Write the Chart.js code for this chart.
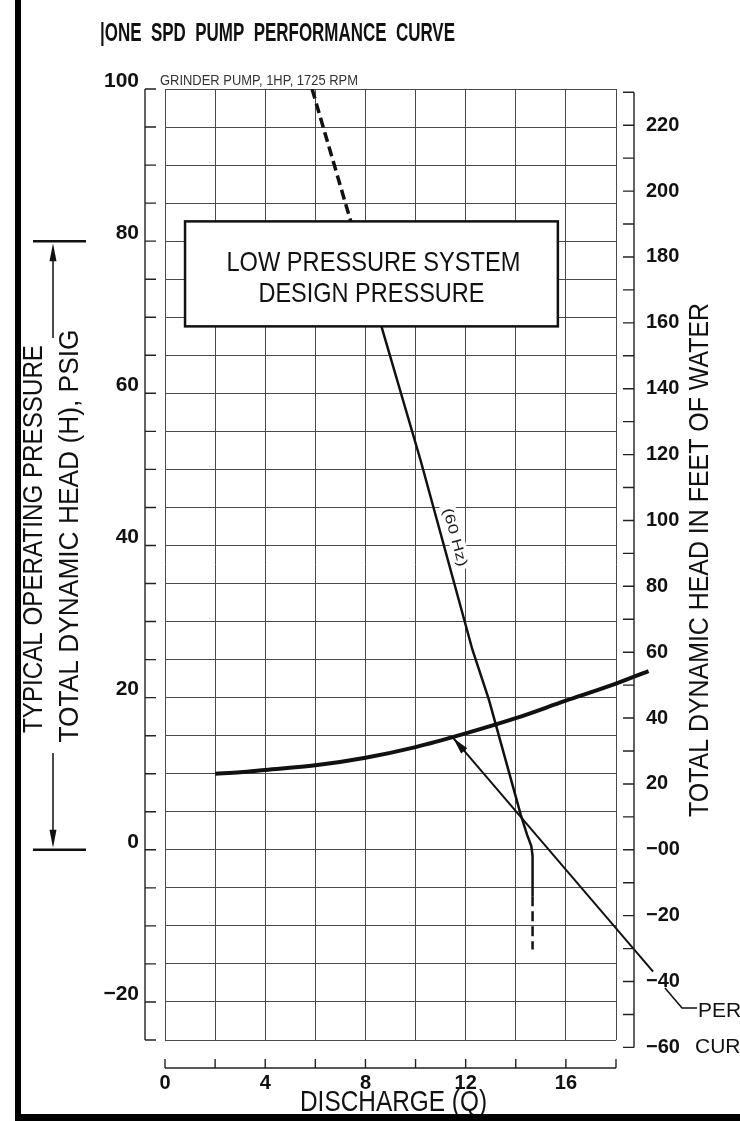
<!DOCTYPE html>
<html>
<head>
<meta charset="utf-8">
<title>One SPD Pump Performance Curve</title>
<script src="https://cdn.jsdelivr.net/npm/chart.js@4.4.0/dist/chart.umd.min.js"></script>
<style>
  html, body { margin: 0; padding: 0; background: #fff; }
  #pumpChart { display: block; }
</style>
</head>
<body>
<canvas id="pumpChart" width="740" height="1121"></canvas>
<script>
// axis ticks (discharge, psi, feet of water)
const qTicks = [0, 2, 4, 6, 8, 10, 12, 14, 16, 18];
const qLabels = [0, 4, 8, 12, 16];
const psiLabels = [100, 80, 60, 40, 20, 0, -20];
const feetTicks = [-60, -50, -40, -30, -20, -10, 0, 10, 20, 30, 40, 50, 60, 70, 80, 90, 100,
    110, 120, 130, 140, 150, 160, 170, 180, 190, 200, 210, 220, 230];
const feetLabels = [220, 200, 180, 160, 140, 120, 100, 80, 60, 40, 20, 0, -20, -40, -60];
const PSI_TO_FEET = 2.31;

// system curve
const systemQ = [2, 3, 4, 6, 8, 10, 12, 14, 16, 17.8, 19.3];
const systemH = [10.0, 10.2, 10.5, 11.1, 12.1, 13.5, 15.3, 17.3, 19.6, 21.6, 23.5];

// pump curve (60 Hz), first and last segments dashed
const pumpQ = [5.87, 7.6, 10.2, 12.27, 12.93, 14.2, 14.45, 14.62, 14.67, 14.67, 14.67];
const pumpH = [100, 80.5, 51.2, 26.3, 19.7, 4.6, 2.0, 0.5, -0.8, -6.1, -13.1];

// callout arrow pointing at the system curve
const arrowQ = [11.5, 19.48];
const arrowH = [14.7, -16.0];

// typical operating pressure range, psig
const operatingRange = [0, 80];

const FONT = "'Liberation Sans', Arial, sans-serif";
const INK = '#111';
const GRID = '#4a4a4a';

function toPoints(xs, ys) {
    return xs.map((v, i) => ({ x: v, y: ys[i] }));
}

function minusSign(v) {
    return v < 0 ? '\u2212' + Math.abs(v) : String(v);
}

// draw text centred on cx with its baseline at by, squeezed to a given width
function drawFit(ctx, text, cx, by, width, font, color) {
    ctx.save();
    ctx.font = font;
    ctx.fillStyle = color || INK;
    ctx.textAlign = 'center';
    ctx.textBaseline = 'alphabetic';
    const w = ctx.measureText(text).width;
    ctx.translate(cx, by);
    ctx.scale(width / w, 1);
    ctx.fillText(text, 0, 0);
    ctx.restore();
}

function drawRotated(ctx, text, bx, cy, width, font) {
    ctx.save();
    ctx.translate(bx, cy);
    ctx.rotate(-Math.PI / 2);
    drawFit(ctx, text, 0, 0, width, font);
    ctx.restore();
}

function triangle(ctx, tipX, tipY, angle, len, half) {
    const bx = tipX - Math.cos(angle) * len;
    const by = tipY - Math.sin(angle) * len;
    const nx = -Math.sin(angle) * half;
    const ny = Math.cos(angle) * half;
    ctx.beginPath();
    ctx.moveTo(tipX, tipY);
    ctx.lineTo(bx + nx, by + ny);
    ctx.lineTo(bx - nx, by - ny);
    ctx.closePath();
    ctx.fill();
}

function drawFrame(ctx) {
    ctx.save();
    ctx.fillStyle = '#000';
    ctx.fillRect(15, 0, 6, 1118);
    ctx.fillRect(15, 1114, 725, 7);
    ctx.restore();
}

function drawBrackets(ctx, x, y, y2) {
    ctx.save();
    ctx.strokeStyle = '#222';
    ctx.lineWidth = 1.4;
    ctx.beginPath();
    // left psi bracket
    const lx = 145;
    ctx.moveTo(lx, y.getPixelForValue(y.max));
    ctx.lineTo(lx, y.getPixelForValue(y.min));
    y.ticks.forEach(t => {
        const py = y.getPixelForValue(t.value);
        ctx.moveTo(lx, py);
        ctx.lineTo(lx + 11, py);
    });
    // right feet bracket
    const rx = 634;
    ctx.moveTo(rx, y2.getPixelForValue(feetTicks[feetTicks.length - 1]));
    ctx.lineTo(rx, y2.getPixelForValue(feetTicks[0]));
    feetTicks.forEach(v => {
        const py = y2.getPixelForValue(v);
        ctx.moveTo(rx, py);
        ctx.lineTo(rx - 11, py);
    });
    // bottom discharge bracket
    const by = 1068;
    ctx.moveTo(x.getPixelForValue(x.min), by);
    ctx.lineTo(x.getPixelForValue(x.max), by);
    qTicks.forEach(v => {
        const px = x.getPixelForValue(v);
        ctx.moveTo(px, by);
        ctx.lineTo(px, by - 9);
    });
    ctx.stroke();
    ctx.restore();
}

function drawArrowHead(ctx, chart) {
    const meta = chart.getDatasetMeta(4);
    const p0 = meta.data[0];
    const p1 = meta.data[1];
    const angle = Math.atan2(p0.y - p1.y, p0.x - p1.x);
    ctx.save();
    ctx.fillStyle = INK;
    triangle(ctx, p0.x, p0.y, angle, 17, 4);
    ctx.restore();
}

function drawDesignBox(ctx, x, y) {
    const left = x.getPixelForValue(0.8);
    const right = x.getPixelForValue(15.68);
    const top = y.getPixelForValue(82.6);
    const bottom = y.getPixelForValue(68.8);
    ctx.save();
    ctx.fillStyle = '#fff';
    ctx.fillRect(left, top, right - left, bottom - top);
    ctx.strokeStyle = INK;
    ctx.lineWidth = 2.5;
    ctx.strokeRect(left, top, right - left, bottom - top);
    ctx.restore();
    const cx = (left + right) / 2;
    drawFit(ctx, 'LOW PRESSURE SYSTEM', cx + 2, top + 50, 294, `28px ${FONT}`);
    drawFit(ctx, 'DESIGN PRESSURE', cx, top + 81, 226, `28px ${FONT}`);
}

function drawHzLabel(ctx, chart) {
    const meta = chart.getDatasetMeta(1);
    const a = meta.data[1];
    const b = meta.data[2];
    const angle = Math.atan2(b.y - a.y, b.x - a.x);
    const { x, y } = chart.scales;
    const cx = x.getPixelForValue(11.6);
    const cy = y.getPixelForValue(41.1);
    ctx.save();
    ctx.translate(cx, cy);
    ctx.rotate(angle);
    ctx.fillStyle = '#fff';
    ctx.fillRect(-33, -8, 66, 16);
    drawFit(ctx, '(60 Hz)', 0, 5, 60, `14px ${FONT}`, '#222');
    ctx.restore();
}

function drawOperatingRange(ctx, y) {
    const top = y.getPixelForValue(operatingRange[1]);
    const bottom = y.getPixelForValue(operatingRange[0]);
    const ax = 53;
    ctx.save();
    ctx.strokeStyle = INK;
    ctx.fillStyle = INK;
    ctx.lineWidth = 2.5;
    ctx.beginPath();
    ctx.moveTo(33, top);
    ctx.lineTo(86, top);
    ctx.moveTo(33, bottom);
    ctx.lineTo(86, bottom);
    ctx.stroke();
    ctx.lineWidth = 1.5;
    ctx.beginPath();
    ctx.moveTo(ax, top + 10);
    ctx.lineTo(ax, 338);
    ctx.moveTo(ax, 753);
    ctx.lineTo(ax, bottom - 10);
    ctx.stroke();
    triangle(ctx, ax, top + 2, -Math.PI / 2, 18, 3.5);
    triangle(ctx, ax, bottom - 2, Math.PI / 2, 18, 3.5);
    ctx.restore();
}

function drawTitles(ctx) {
    drawFit(ctx, '|ONE  SPD  PUMP  PERFORMANCE  CURVE', 277.5, 41, 355, `bold 25px ${FONT}`);
    drawFit(ctx, 'GRINDER PUMP, 1HP, 1725 RPM', 259, 85, 198, `14px ${FONT}`, '#333');
    drawRotated(ctx, 'TYPICAL OPERATING PRESSURE', 42, 539, 388, `28px ${FONT}`);
    drawRotated(ctx, 'TOTAL DYNAMIC HEAD (H), PSIG', 78, 536, 413, `28px ${FONT}`);
    drawRotated(ctx, 'TOTAL DYNAMIC HEAD IN FEET OF WATER', 708, 560, 514, `28px ${FONT}`);
    drawFit(ctx, 'DISCHARGE (Q)', 393.5, 1111, 187, `29px ${FONT}`);
}

function drawCurveCallout(ctx) {
    ctx.save();
    ctx.strokeStyle = INK;
    ctx.lineWidth = 1.6;
    ctx.beginPath();
    ctx.moveTo(665, 988);
    ctx.lineTo(682, 1008);
    ctx.lineTo(697, 1008);
    ctx.stroke();
    ctx.fillStyle = INK;
    ctx.font = `21px ${FONT}`;
    ctx.textAlign = 'left';
    ctx.fillText('PERFORMANCE', 698, 1017);
    ctx.fillText('CURVE', 695, 1053);
    ctx.restore();
}

const decorPlugin = {
    id: 'pumpDecor',
    afterDatasetsDraw(chart) {
        const ctx = chart.ctx;
        const { x, y, y2 } = chart.scales;
        drawBrackets(ctx, x, y, y2);
        drawArrowHead(ctx, chart);
        drawDesignBox(ctx, x, y);
        drawHzLabel(ctx, chart);
        drawOperatingRange(ctx, y);
        drawTitles(ctx);
        drawCurveCallout(ctx);
        drawFrame(ctx);
    }
};

const tickFont = { family: FONT, size: 20, weight: 'bold' };
const last = pumpQ.length - 1;

function lineSet(label, points, width, dash, extra) {
    return Object.assign({
        label,
        data: points,
        borderColor: INK,
        borderWidth: width,
        borderDash: dash,
        tension: 0,
        pointRadius: 0,
        fill: false
    }, extra || {});
}

new Chart(document.getElementById('pumpChart'), {
    type: 'line',
    data: {
        datasets: [
            lineSet('System curve', toPoints(systemQ, systemH), 4, [], { cubicInterpolationMode: 'monotone', clip: false }),
            lineSet('Pump curve (60 Hz)', toPoints(pumpQ.slice(1, last), pumpH.slice(1, last)), 2.5, []),
            lineSet('Pump curve top', toPoints(pumpQ.slice(0, 2), pumpH.slice(0, 2)), 3.5, [10, 5]),
            lineSet('Pump curve bottom', toPoints(pumpQ.slice(last - 1), pumpH.slice(last - 1)), 2.5, [10, 5]),
            lineSet('Performance curve callout', toPoints(arrowQ, arrowH), 2, [], { clip: false })
        ]
    },
    options: {
        responsive: false,
        animation: false,
        devicePixelRatio: 1,
        events: [],
        layout: { padding: { top: 89, left: 0, right: 0, bottom: 0 } },
        plugins: {
            legend: { display: false },
            tooltip: { enabled: false }
        },
        scales: {
            x: {
                type: 'linear',
                min: 0,
                max: 18,
                afterBuildTicks: s => { s.ticks = qTicks.map(v => ({ value: v })); },
                afterFit: s => { s.height = 81; },
                grid: { color: GRID, lineWidth: 1, drawTicks: false },
                border: { display: false },
                ticks: {
                    autoSkip: false,
                    maxRotation: 0,
                    padding: 31,
                    color: INK,
                    font: tickFont,
                    callback: v => qLabels.includes(v) ? String(v) : ''
                }
            },
            y: {
                type: 'linear',
                min: -25,
                max: 100,
                afterFit: s => { s.width = 165; },
                grid: { color: GRID, lineWidth: 1, drawTicks: false },
                border: { display: false },
                ticks: {
                    stepSize: 5,
                    autoSkip: false,
                    padding: 26,
                    labelOffset: -8,
                    color: INK,
                    font: { family: FONT, size: 21, weight: 'bold' },
                    callback: v => psiLabels.includes(v) ? minusSign(v) : ''
                }
            },
            y2: {
                type: 'linear',
                position: 'right',
                min: -25 * PSI_TO_FEET,
                max: 100 * PSI_TO_FEET,
                afterBuildTicks: s => { s.ticks = feetTicks.map(v => ({ value: v })); },
                afterFit: s => { s.width = 124; },
                grid: { drawOnChartArea: false, drawTicks: false },
                border: { display: false },
                ticks: {
                    autoSkip: false,
                    padding: 30,
                    color: INK,
                    font: tickFont,
                    callback: v => feetLabels.includes(v) ? (v === 0 ? '\u221200' : minusSign(v)) : ''
                }
            }
        }
    },
    plugins: [decorPlugin]
});
</script>
</body>
</html>
